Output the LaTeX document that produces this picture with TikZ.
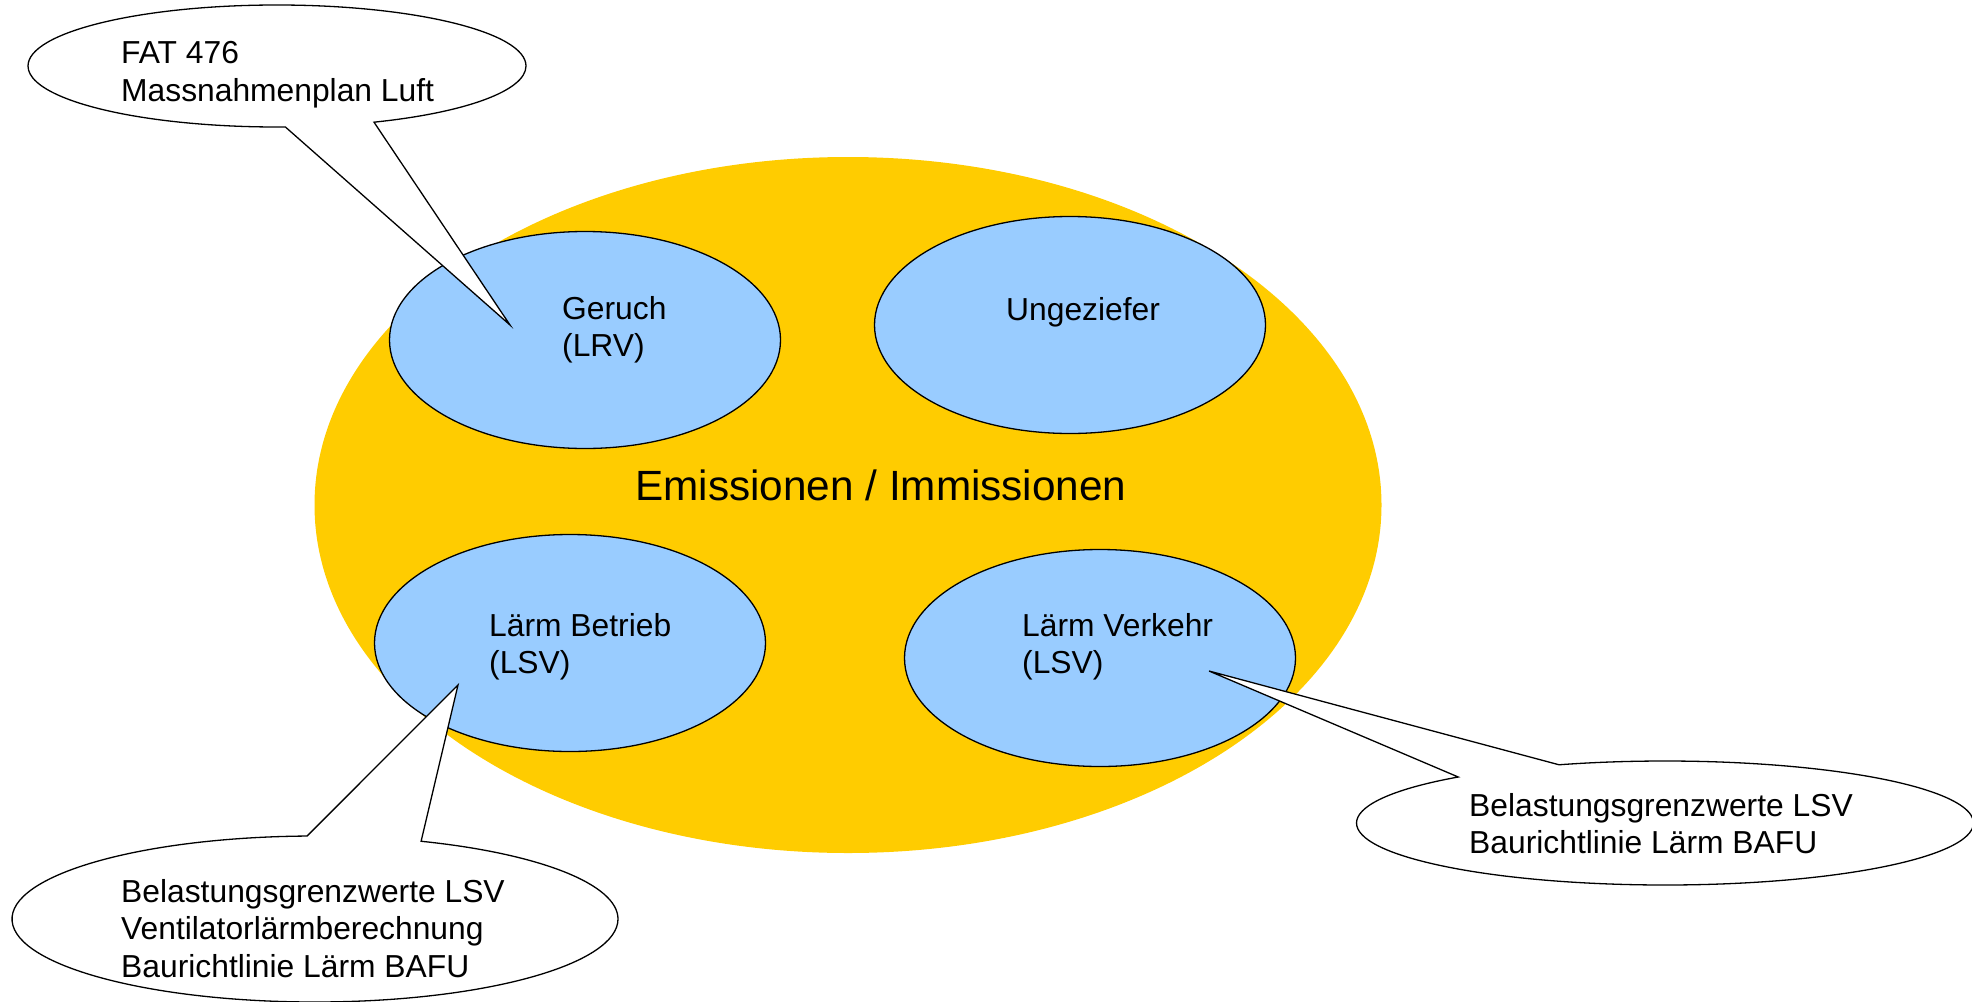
\documentclass[tikz,border=0pt]{standalone}
\usepackage{fontspec}
\setmainfont{Liberation Sans}
\usetikzlibrary{shapes.geometric,shapes.callouts}
\definecolor{gold}{HTML}{FFCC00}
\definecolor{sky}{HTML}{99CCFF}
\begin{document}
\begin{tikzpicture}[x=1pt,y=-1pt,
  topic/.style={ellipse, draw=black, line width=1.3pt, fill=sky, inner sep=0pt, minimum width=391pt, minimum height=217pt},
  bubble/.style={ellipse callout, draw=black, line width=1.3pt, fill=white, inner sep=0pt},
  txt/.style={anchor=base west, inner sep=0pt, font=\fontsize{31.8pt}{37.5pt}\selectfont},
  big/.style={anchor=base west, inner sep=0pt, font=\fontsize{42.3pt}{50pt}\selectfont}]
\useasboundingbox (0,0) rectangle (1972,1001);
% main area
\node[ellipse, fill=gold, inner sep=0pt, minimum width=1067pt, minimum height=696pt] (area) at (848,505) {};
% topics
\node[topic] (geruch) at (585,340) {};
\node[topic] (ungez) at (1070,325) {};
\node[topic] (betrieb) at (570,643) {};
\node[topic] (verkehr) at (1100,658) {};
\node[txt] (tg) at (562,319) {\vtop{\hbox{Geruch}\hbox{(LRV)}}};
\node[txt] (tu) at (1006,320.5) {Ungeziefer};
\node[txt] (tb) at (489,636) {\vtop{\hbox{Lärm Betrieb}\hbox{(LSV)}}};
\node[txt] (tv) at (1022,636) {\vtop{\hbox{Lärm Verkehr}\hbox{(LSV)}}};
\node[big] (tarea) at (635,500.5) {Emissionen / Immissionen};
% callouts
\coordinate (p1) at (510,325);
\node[bubble, minimum width=498pt, minimum height=122pt, callout absolute pointer={(p1)}, callout pointer arc=21] (c1) at (277,66) {};
\node[txt] (t1) at (121,63.5) {\vtop{\hbox{FAT 476}\hbox{Massnahmenplan Luft}}};
\coordinate (p2) at (458,685);
\node[bubble, minimum width=606pt, minimum height=166pt, callout absolute pointer={(p2)}, callout pointer arc=22] (c2) at (315,919) {};
\node[txt] (t2) at (121,902) {\vtop{\hbox{Belastungsgrenzwerte LSV}\hbox{Ventilatorlärmberechnung}\hbox{Baurichtlinie Lärm BAFU}}};
\coordinate (p3) at (1209,671);
\node[bubble, minimum width=617pt, minimum height=124pt, callout absolute pointer={(p3)}, callout pointer arc=22] (c3) at (1665,823) {};
\node[txt] (t3) at (1469,816) {\vtop{\hbox{Belastungsgrenzwerte LSV}\hbox{Baurichtlinie Lärm BAFU}}};
\end{tikzpicture}
\end{document}
